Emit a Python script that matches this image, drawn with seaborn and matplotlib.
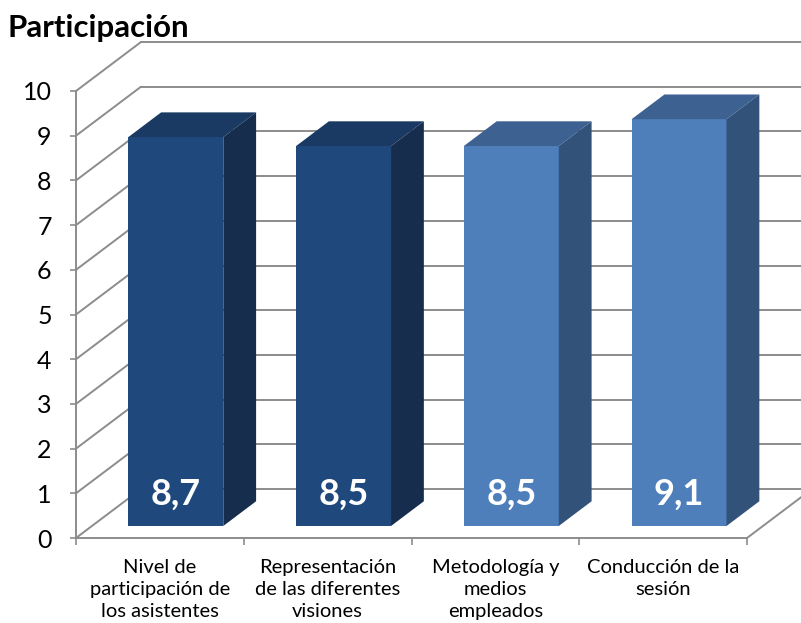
import matplotlib
matplotlib.use("Agg")
import matplotlib.pyplot as plt
from matplotlib.patches import Polygon
import seaborn as sns
import pandas as pd

# ---- data ----
categories = [
    "Nivel de\nparticipación de\nlos asistentes",
    "Representación\nde las diferentes\nvisiones",
    "Metodología y\nmedios\nempleados",
    "Conducción de la\nsesión",
]
values = [8.7, 8.5, 8.5, 9.1]
value_labels = ["8,7", "8,5", "8,5", "9,1"]
yticks = list(range(0, 11))
title = "Participación"

front_colors = ["#1F487C", "#1F487C", "#4E7FBB", "#4E7FBB"]
top_colors = ["#1A3A64", "#1A3A64", "#3D6190", "#3D6190"]
side_colors = ["#172D4D", "#172D4D", "#32527A", "#32527A"]

sns.set_theme(style="white")
plt.rcParams["font.family"] = ["Lato", "DejaVu Sans"]

W, H = 801, 623
fig = plt.figure(figsize=(W / 100, H / 100), dpi=100)
ax = fig.add_axes([76 / W, 1 - 538 / H, (747 - 76) / W, (538 - 91) / H])
ax.set_xlim(-0.5, 3.5)
ax.set_ylim(0, 10)

# oblique depth (full depth of the plot box) in data units
DX, DY = 0.3875, 1.096
Z0, Z1 = 0.245, 0.75  # bar depth span

grid_kw = dict(color="#8C8C8C", lw=1.4, clip_on=False, zorder=0.5)
for v in yticks:
    ax.plot([-0.5 + DX, 3.5 + DX + 0.2], [v + DY, v + DY], **grid_kw)
    ax.plot([-0.5, -0.5 + DX], [v, v + DY], **grid_kw)
ax.plot([3.5, 3.5 + DX], [0, DY], **grid_kw)

df = pd.DataFrame({"cat": categories, "val": values})
sns.barplot(data=df, x="cat", y="val", hue="cat", palette=front_colors,
            saturation=1, width=0.566, legend=False, ax=ax, zorder=3)

for i, p in enumerate(ax.patches):
    x0 = p.get_x()
    w = p.get_width()
    h = p.get_height()
    p.set_xy((x0 + Z0 * DX, Z0 * DY))
    p.set_clip_on(False)
    p.set_edgecolor("none")
    fx0, fx1 = x0 + Z0 * DX, x0 + w + Z0 * DX
    fy0, fy1 = Z0 * DY, h + Z0 * DY
    ddx, ddy = (Z1 - Z0) * DX, (Z1 - Z0) * DY
    top = Polygon([(fx0, fy1), (fx1, fy1), (fx1 + ddx, fy1 + ddy), (fx0 + ddx, fy1 + ddy)],
                  closed=True, facecolor=top_colors[i], edgecolor="none",
                  clip_on=False, zorder=3)
    side = Polygon([(fx1, fy0), (fx1 + ddx, fy0 + ddy), (fx1 + ddx, fy1 + ddy), (fx1, fy1)],
                   closed=True, facecolor=side_colors[i], edgecolor="none",
                   clip_on=False, zorder=3)
    ax.add_patch(top)
    ax.add_patch(side)
    ax.text((fx0 + fx1) / 2, 0.74, value_labels[i], color="white",
            fontsize=26, fontweight="bold", ha="center", va="baseline", zorder=4)

for s in ["top", "right"]:
    ax.spines[s].set_visible(False)
for s in ["left", "bottom"]:
    ax.spines[s].set_color("#8C8C8C")
    ax.spines[s].set_linewidth(1.4)
    ax.spines[s].set_zorder(0.6)

ax.set_yticks(yticks)
ax.set_yticklabels([str(t) for t in yticks])
ax.tick_params(axis="y", which="major", left=True, length=4.5, width=1.2,
               color="#8C8C8C", pad=13, labelsize=18, labelcolor="black")

ax.set_xticks([-0.5, 0.5, 1.5, 2.5, 3.5])
ax.set_xticklabels([])
ax.set_xticks([0, 1, 2, 3], minor=True)
ax.set_xticklabels(categories, minor=True, fontsize=14.5, color="black",
                   linespacing=1.38)
ax.tick_params(axis="x", which="major", bottom=True, length=5, width=1.2,
               color="#8C8C8C")
ax.tick_params(axis="x", which="minor", bottom=True, length=0, pad=15)
ax.set_xlabel("")
ax.set_ylabel("")

fig.text(8 / W, 1 - 37 / H, title, fontsize=22.5, fontweight="bold",
         ha="left", va="baseline", color="black")

fig.savefig("out.png", dpi=100)
